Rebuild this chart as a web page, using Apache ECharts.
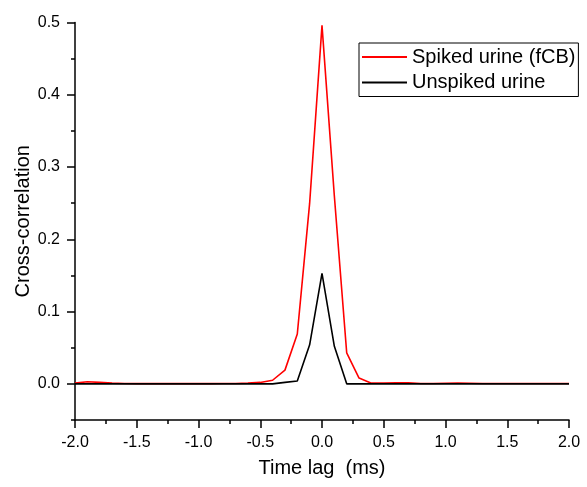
<!DOCTYPE html>
<html><head><meta charset="utf-8">
<script src="https://cdn.jsdelivr.net/npm/echarts@6/dist/echarts.min.js"></script>
<style>html,body{margin:0;padding:0;background:#fff}#c{width:587px;height:487px}</style>
</head><body><div id="c"></div>
<script>
var lags = [-2.0,-1.9,-1.8,-1.7,-1.6,-1.5,-1.4,-1.3,-1.2,-1.1,-1.0,-0.9,-0.8,-0.7,-0.6,-0.5,-0.4,-0.3,-0.2,-0.1,0.0,0.1,0.2,0.3,0.4,0.5,0.6,0.7,0.8,0.9,1.0,1.1,1.2,1.3,1.4,1.5,1.6,1.7,1.8,1.9,2.0];
var spiked = [0.001,0.003,0.002,0.001,0.0005,0.0003,0.0003,0.0003,0.0003,0.0003,0.0003,0.0003,0.0004,0.0005,0.001,0.002,0.005,0.019,0.069,0.25,0.496,0.26,0.043,0.008,0.001,0.001,0.0015,0.0015,0.0005,0.0005,0.0008,0.001,0.0008,0.0005,0.0005,0.0005,0.0005,0.0005,0.0005,0.0005,0.0005];
var unspiked = [0,0,0,0,0,0,0,0,0,0,0,0,0,0,0,0,0,0.002,0.004,0.054,0.153,0.052,0,0,0,0,0,0,0,0,0,0,0,0,0,0,0,0,0,0,0];
var yMajor = [0,0.1,0.2,0.3,0.4,0.5];
var yMinor = [-0.05,0.05,0.15,0.25,0.35,0.45];
var seriesNames = ['Spiked urine (fCB)','Unspiked urine'];

function pairs(v){ return lags.map(function(x,i){ return [x, v[i]]; }); }
var font = 'Liberation Sans, Arial, sans-serif';
var lineIcon = 'path://M0,0L45,0L45,2L0,2Z';
var chart = echarts.init(document.getElementById('c'), null, {renderer:'canvas'});
chart.setOption({
  animation:false,
  backgroundColor:'#fff',
  grid:{left:75, right:18, top:22.5, bottom:67},
  legend:{
    orient:'vertical', left:359, top:43,
    data:seriesNames.map(function(n){ return {name:n, icon:lineIcon}; }),
    itemWidth:45, itemHeight:2, itemGap:5.5, symbolKeepAspect:false,
    borderColor:'#000', borderWidth:1, borderRadius:0,
    padding:[4,3,4,3],
    textStyle:{fontFamily:font, fontSize:20, color:'#000'}
  },
  xAxis:{
    type:'value', min:-2, max:2, interval:0.5,
    name:'Time lag  (ms)', nameLocation:'middle', nameGap:38,
    nameTextStyle:{fontFamily:font, fontSize:20, color:'#000'},
    axisLine:{show:true, onZero:false, lineStyle:{color:'#000', width:1.5}},
    axisTick:{show:true, length:8, lineStyle:{color:'#000', width:1.5}},
    minorTick:{show:true, splitNumber:2, length:4, lineStyle:{color:'#000', width:1.5}},
    splitLine:{show:false},
    axisLabel:{fontFamily:font, fontSize:16, color:'#000', margin:15,
      formatter:function(v){ return v.toFixed(1); }}
  },
  yAxis:[{
    type:'value', min:-0.05, max:0.5,
    name:'Cross-correlation', nameLocation:'middle', nameGap:42, nameMoveOverlap:false,
    nameTextStyle:{fontFamily:font, fontSize:20, color:'#000'},
    axisLine:{show:true, onZero:false, lineStyle:{color:'#000', width:1.5}},
    axisTick:{show:true, length:8, customValues:yMajor, lineStyle:{color:'#000', width:1.5}},
    axisLabel:{fontFamily:font, fontSize:16, color:'#000', margin:15, customValues:yMajor,
      formatter:function(v){ return v.toFixed(1); }},
    splitLine:{show:false}
  },{
    type:'value', min:-0.05, max:0.5, position:'left', offset:0,
    axisLine:{show:false, onZero:false},
    axisTick:{show:true, length:4, customValues:yMinor, lineStyle:{color:'#000', width:1.5}},
    axisLabel:{show:false},
    splitLine:{show:false}
  }],
  series:[{
    name:seriesNames[0], type:'line', data:pairs(spiked), symbol:'none',
    lineStyle:{color:'#ff0000', width:1.6}, itemStyle:{color:'#ff0000'}
  },{
    name:seriesNames[1], type:'line', data:pairs(unspiked), symbol:'none',
    lineStyle:{color:'#000', width:1.6}, itemStyle:{color:'#000'}
  }]
});
</script></body></html>
